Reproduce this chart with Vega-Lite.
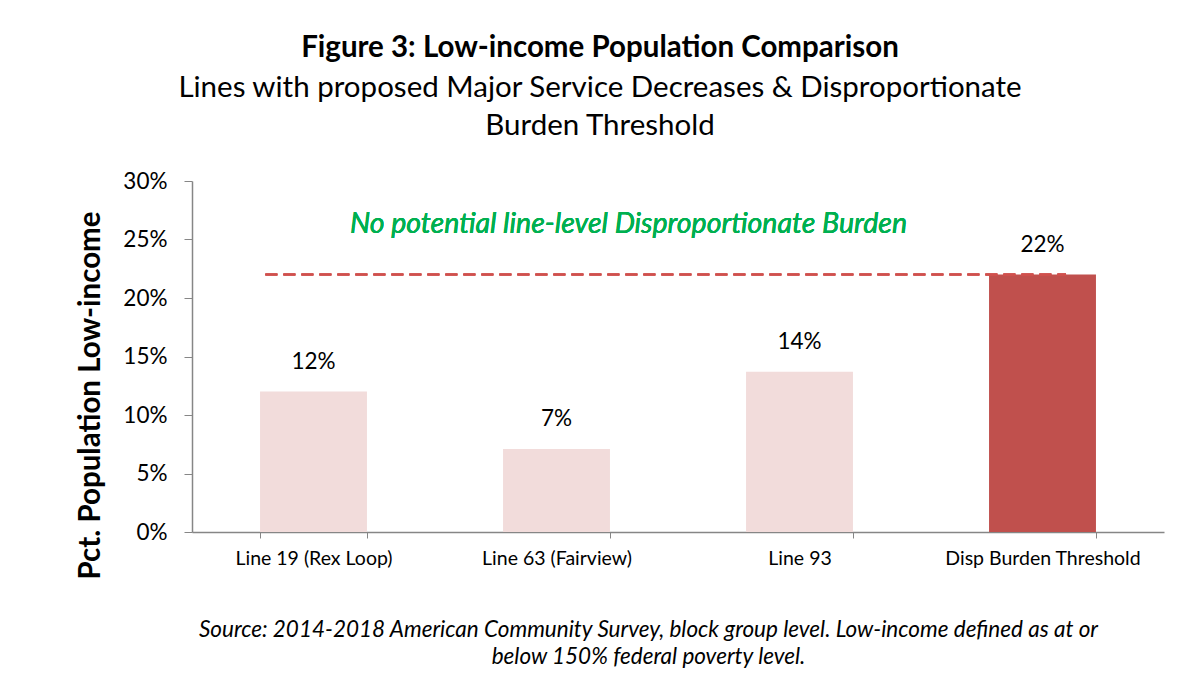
{
  "$schema": "https://vega.github.io/schema/vega-lite/v6.json",
  "autosize": "none",
  "width": 972,
  "height": 351,
  "padding": {"left": 192, "top": 181, "right": 21, "bottom": 149},
  "background": "white",
  "config": {
    "font": "Lato",
    "view": {"stroke": null}
  },
  "title": {
    "text": "Figure 3: Low-income Population Comparison",
    "subtitle": ["Lines with proposed Major Service Decreases & Disproportionate", "Burden Threshold"],
    "anchor": "middle",
    "dx": -78,
    "fontSize": 29.5,
    "fontWeight": "bold",
    "color": "black",
    "subtitleFontSize": 29.5,
    "subtitleColor": "black",
    "subtitleLineHeight": 38,
    "subtitlePadding": 10,
    "offset": 29
  },
  "data": {
    "values": [
      {"line": "Line 19 (Rex Loop)", "pct": 0.120, "kind": "line"},
      {"line": "Line 63 (Fairview)", "pct": 0.071, "kind": "line"},
      {"line": "Line 93", "pct": 0.137, "kind": "line"},
      {"line": "Disp Burden Threshold", "pct": 0.220, "kind": "threshold"}
    ]
  },
  "encoding": {
    "x": {
      "field": "line",
      "type": "nominal",
      "sort": null,
      "scale": {"paddingInner": 0.56, "paddingOuter": 0.28},
      "axis": {
        "labelAngle": 0,
        "labelFontSize": 19.5,
        "labelColor": "black",
        "labelPadding": 11,
        "labelLimit": 0,
        "labelOverlap": false,
        "tickBand": "extent",
        "tickSize": 6,
        "tickColor": "#868686",
        "domainColor": "#868686",
        "domainWidth": 1.5,
        "title": ["Source: 2014-2018 American Community Survey, block group level. Low-income defined as at or", "below 150% federal poverty level."],
        "titleFontSize": 22.5,
        "titleFontStyle": "italic",
        "titleFontWeight": "normal",
        "titleColor": "black",
        "titleLineHeight": 27,
        "titleBaseline": "top",
        "titleX": 456,
        "titleY": 86
      }
    }
  },
  "layer": [
    {
      "mark": {"type": "bar"},
      "encoding": {
        "y": {
          "field": "pct",
          "type": "quantitative",
          "scale": {"domain": [0, 0.3]},
          "axis": {
            "values": [0, 0.05, 0.1, 0.15, 0.2, 0.25, 0.3],
            "format": ".0%",
            "grid": false,
            "labelFontSize": 22.5,
            "labelColor": "black",
            "labelPadding": 17,
            "tickSize": 8,
            "tickColor": "#868686",
            "domainColor": "#868686",
            "domainWidth": 1.5,
            "title": "Pct. Population Low-income",
            "titleFontSize": 29.5,
            "titleFontWeight": "bold",
            "titleColor": "black",
            "titleBaseline": "middle",
            "titleX": -102,
            "titleY": 214
          }
        },
        "color": {
          "field": "kind",
          "type": "nominal",
          "scale": {"domain": ["line", "threshold"], "range": ["#F2DCDB", "#C0504D"]},
          "legend": null
        }
      }
    },
    {
      "mark": {"type": "text", "baseline": "bottom", "dy": -18, "fontSize": 22.5, "color": "black"},
      "encoding": {
        "y": {"field": "pct", "type": "quantitative"},
        "text": {"field": "pct", "type": "quantitative", "format": ".0%"}
      }
    },
    {
      "mark": {"type": "rule", "color": "#D0504D", "strokeWidth": 2, "strokeDash": [12, 6]},
      "encoding": {
        "x": {"datum": "Line 19 (Rex Loop)", "bandPosition": 0.05},
        "x2": {"datum": "Disp Burden Threshold", "bandPosition": 0.72},
        "y": {"datum": 0.22}
      }
    },
    {
      "mark": {"type": "text", "fontSize": 28.5, "fontStyle": "italic", "color": "#00B050", "dx": 72, "baseline": "middle"},
      "encoding": {
        "x": {"datum": "Line 63 (Fairview)"},
        "y": {"datum": 0.263},
        "text": {"value": "No potential line-level Disproportionate Burden"}
      }
    }
  ]
}
